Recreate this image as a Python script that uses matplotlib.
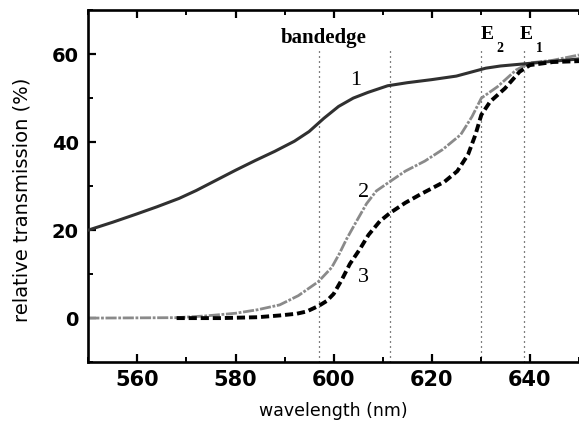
import matplotlib
matplotlib.use("Agg")
import matplotlib.pyplot as plt
from matplotlib.ticker import MultipleLocator

# ---- data ----
wl1 = [550, 555, 559.7, 564, 568.5, 572, 576, 580, 584, 588, 592, 595, 598,
       601, 604, 607, 611, 615, 620, 625, 628, 631, 634, 640, 645, 650]
t1 = [20.0, 21.8, 23.6, 25.3, 27.2, 29.0, 31.3, 33.6, 35.8, 37.9, 40.2, 42.4, 45.4,
      48.1, 50.0, 51.3, 52.8, 53.5, 54.2, 55.0, 55.9, 56.8, 57.3, 57.9, 58.4, 58.9]

wl2 = [550, 568.0, 574.0, 580.0, 584.5, 589.0, 592.8, 596.9, 599.6, 601.1, 602.6,
       604.5, 606.7, 608.7, 611.3, 614.6, 618.6, 622.2, 625.9, 628.2, 630.1, 633.4,
       637.2, 640.0, 644.7, 650.0]
t2 = [0.0, 0.1, 0.5, 1.1, 1.9, 3.0, 5.1, 8.3, 11.5, 14.5, 17.9,
      21.7, 26.0, 28.9, 30.9, 33.4, 35.7, 38.3, 41.7, 45.8, 50.0, 52.6,
      56.4, 58.0, 58.6, 59.8]

wl3 = [568.0, 577.0, 584.5, 589.0, 592.5, 594.5, 597.0, 598.6, 600.0, 601.7, 603.3,
       605.3, 607.1, 609.4, 611.5, 614.6, 617.8, 622.6, 625.2, 627.4, 628.9, 630.1,
       631.9, 634.9, 637.9, 640.0, 644.7, 650.0]
t3 = [0.0, 0.0, 0.2, 0.6, 1.0, 1.5, 2.8, 3.9, 5.5, 8.8, 12.3,
      15.6, 18.9, 22.0, 23.9, 26.2, 28.2, 31.0, 33.4, 37.2, 41.7, 46.2,
      49.2, 52.2, 56.0, 57.5, 58.2, 58.4]

marker_wl = [597.0, 611.5, 630.0, 638.7]
curve_labels = ["1", "2", "3"]
curve_label_pos = [(604.5, 54.0), (606.0, 28.5), (606.0, 9.3)]

xticks = [560, 580, 600, 620, 640]
yticks = [0, 20, 40, 60]

fig = plt.figure(figsize=(5.79, 4.26), dpi=100)
ax = fig.add_axes([0.1525, 0.150, 0.8475, 0.8263])

for xv in marker_wl:
    ax.plot([xv, xv], [-10, 61.2], color="black", lw=0.9,
            linestyle=(0, (0.8, 3.2)), zorder=1)

ax.plot(wl1, t1, color="#303030", lw=2.2, zorder=3)
ax.plot(wl2, t2, color="#8a8a8a", lw=2.0, linestyle=(0, (4, 0.6, 1, 0.6)), zorder=2)
ax.plot(wl3, t3, color="black", lw=2.8, linestyle=(0, (2.1, 1.0)), zorder=4)

serif = ["Liberation Serif", "DejaVu Serif"]
for lab, (xv, yv) in zip(curve_labels, curve_label_pos):
    ax.text(xv, yv, lab, fontsize=16, family=serif, ha="center", va="center")

ax.text(598.0, 63.6, "bandedge", fontsize=15, family=serif, fontweight="bold",
        ha="center", va="center")
ax.text(631.2, 64.4, "E", fontsize=14, family=serif, fontweight="bold",
        ha="center", va="center")
ax.text(633.8, 61.3, "2", fontsize=10, family=serif, fontweight="bold",
        ha="center", va="center")
ax.text(639.3, 64.4, "E", fontsize=14, family=serif, fontweight="bold",
        ha="center", va="center")
ax.text(641.9, 61.3, "1", fontsize=10, family=serif, fontweight="bold",
        ha="center", va="center")

ax.set_xlim(550, 650)
ax.set_ylim(-10, 70)
ax.set_xticks(xticks)
ax.set_yticks(yticks)
ax.xaxis.set_minor_locator(MultipleLocator(10))
ax.yaxis.set_minor_locator(MultipleLocator(10))

for s in ["left", "bottom", "top"]:
    ax.spines[s].set_linewidth(1.9)
ax.spines["right"].set_visible(False)

ax.tick_params(axis="both", which="major", direction="in", length=6, width=1.6,
               top=True, right=False, labelsize=14)
ax.tick_params(axis="both", which="minor", direction="in", length=3.5, width=1.4,
               top=True, right=False)
ax.tick_params(axis="x", which="major", pad=6, labelsize=15)
ax.tick_params(axis="y", which="major", pad=7)
for lbl in ax.get_xticklabels() + ax.get_yticklabels():
    lbl.set_fontweight("bold")

ax.set_xlabel("wavelength (nm)", fontsize=12.5, labelpad=8)
ax.set_ylabel("relative transmission (%)", fontsize=14, va="center")
ax.yaxis.set_label_coords(-0.135, 0.461)

fig.savefig("out.png", dpi=100)
